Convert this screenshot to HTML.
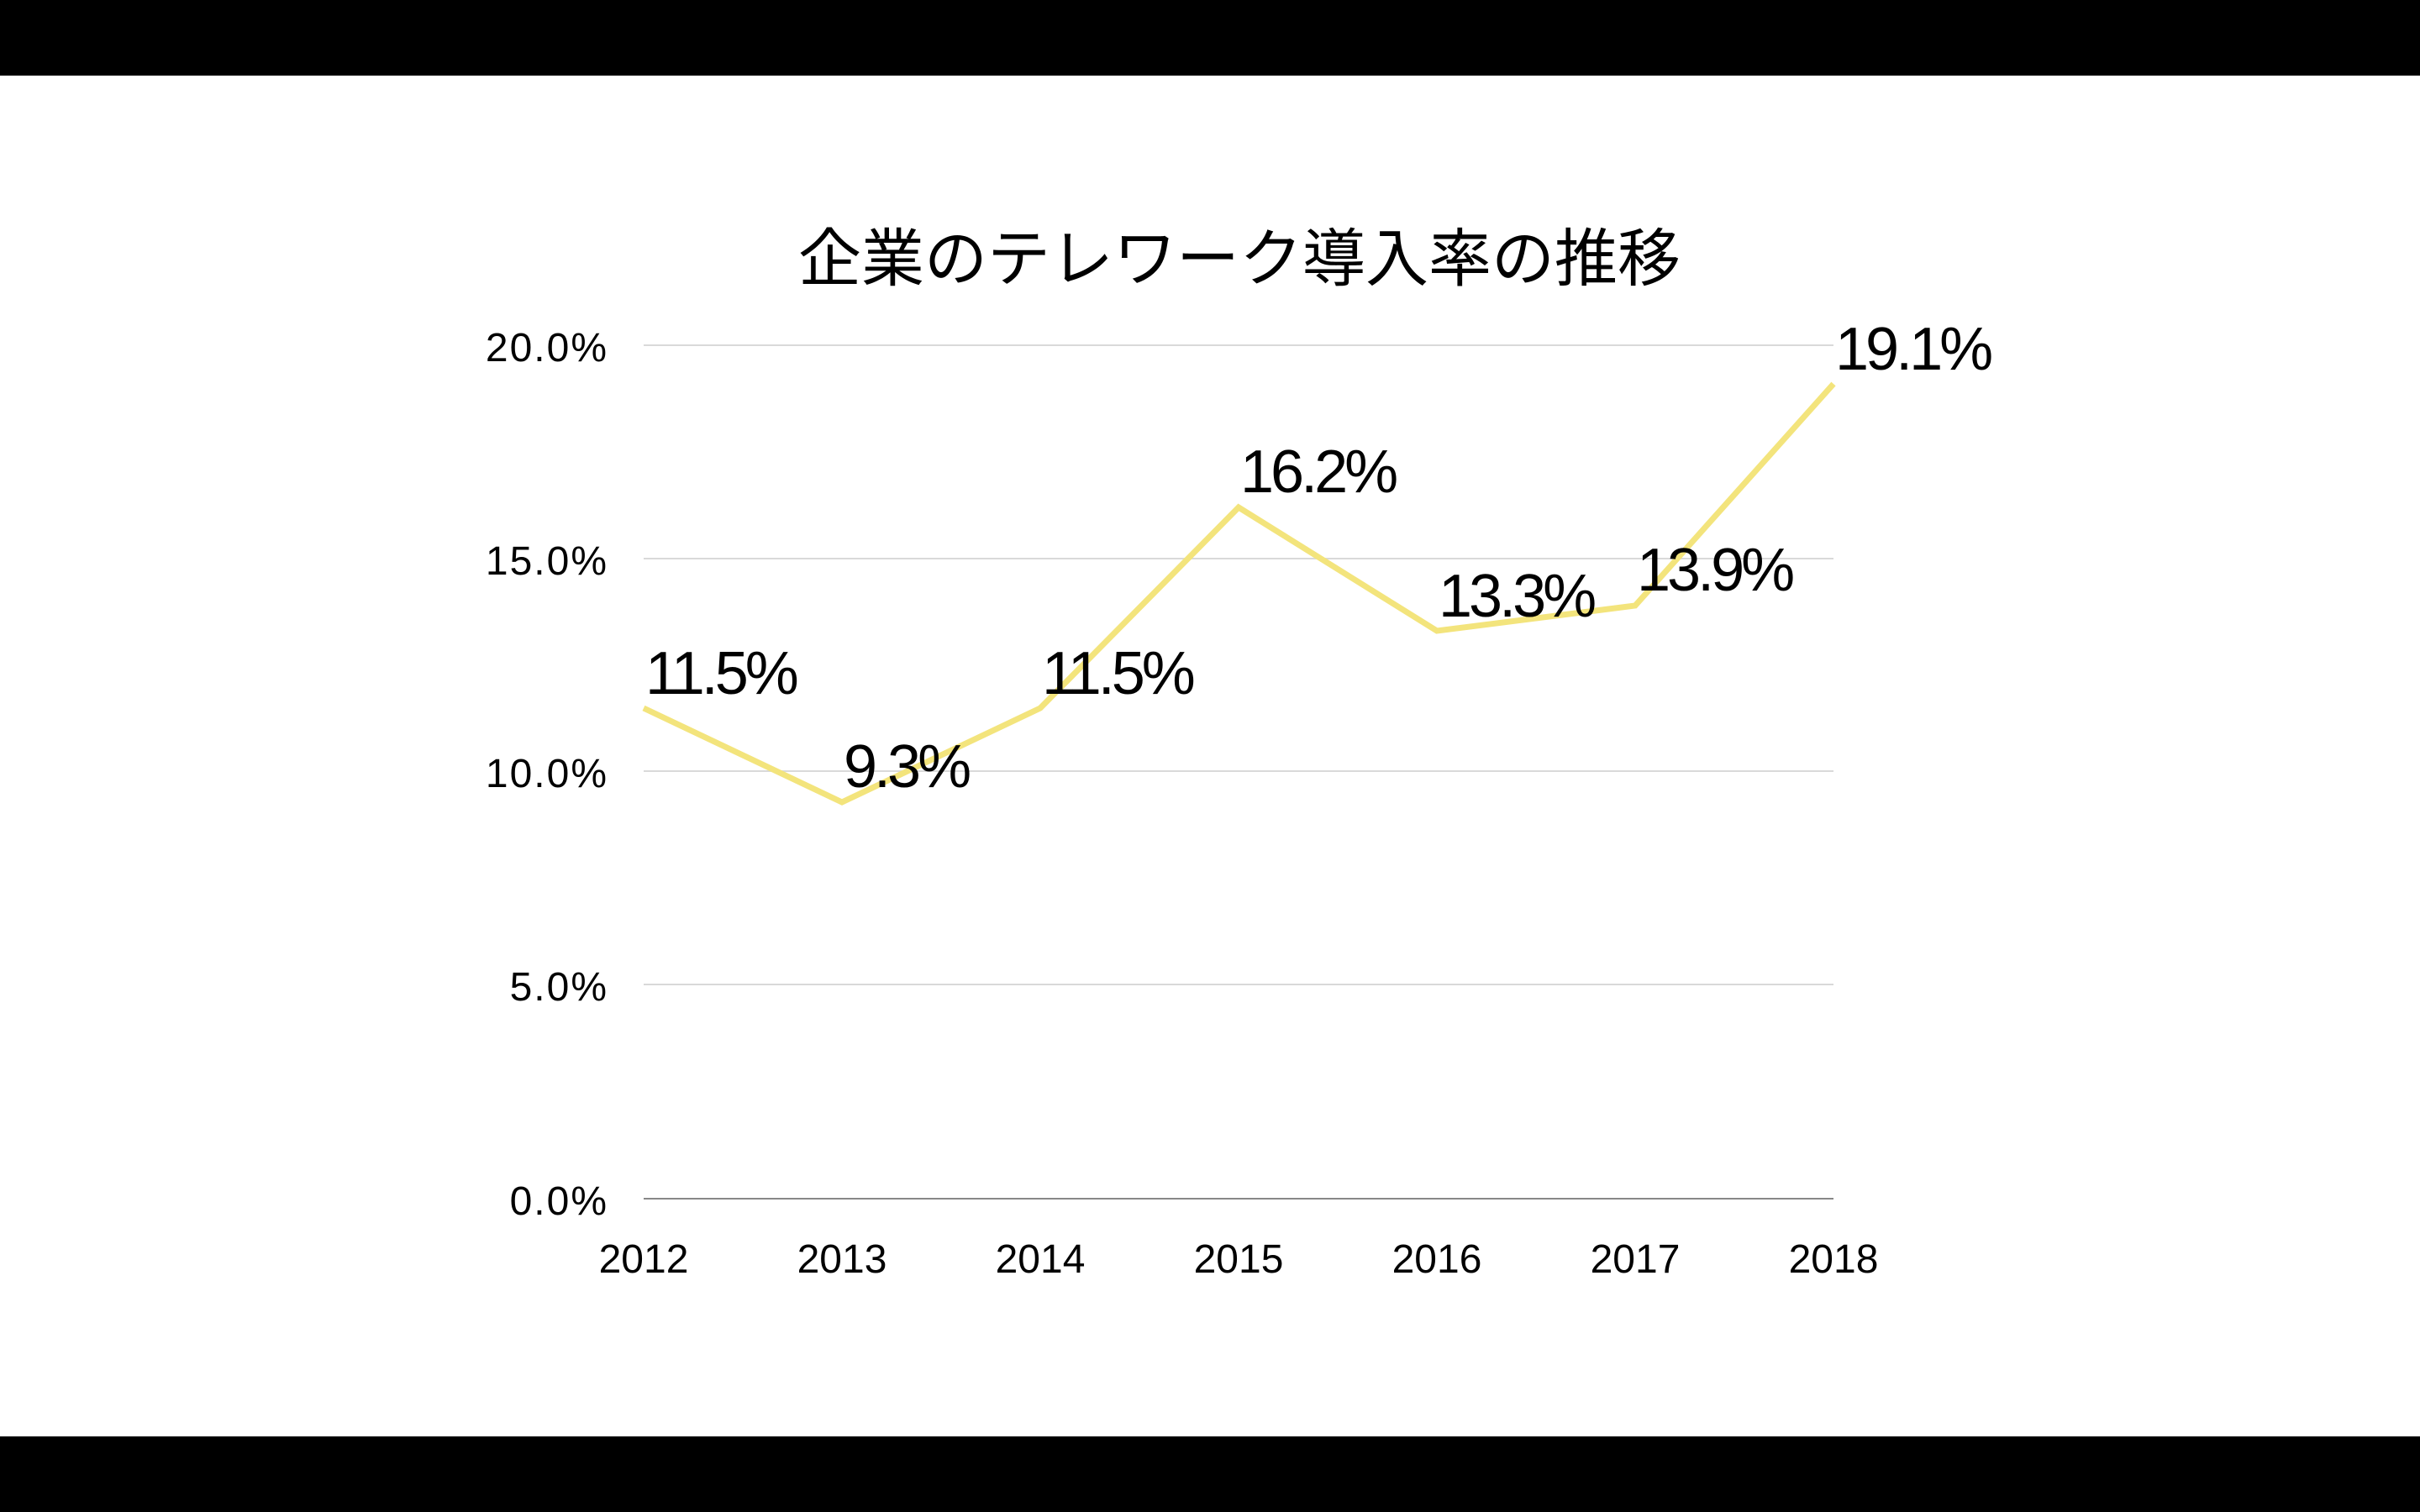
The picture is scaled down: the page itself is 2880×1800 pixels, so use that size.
<!DOCTYPE html>
<html><head><meta charset="utf-8"><style>
html,body{margin:0;padding:0;background:#fff;}
svg{display:block;}
</style></head><body>
<svg width="2880" height="1800" xmlns="http://www.w3.org/2000/svg" font-family="'Liberation Sans','Noto Sans CJK JP',sans-serif">
<rect x="0" y="0" width="2880" height="1800" fill="#fff"/>
<rect x="0" y="0" width="2880" height="90" fill="#000"/>
<rect x="0" y="1710" width="2880" height="90" fill="#000"/>
<text x="1475" y="334" font-size="75" text-anchor="middle" fill="#000">企業のテレワーク導入率の推移</text>
<g stroke="#d9d9d9" stroke-width="2">
<line x1="766" y1="411" x2="2182" y2="411"/>
<line x1="766" y1="665" x2="2182" y2="665"/>
<line x1="766" y1="918" x2="2182" y2="918"/>
<line x1="766" y1="1172" x2="2182" y2="1172"/>
</g>
<line x1="766" y1="1427" x2="2182" y2="1427" stroke="#888" stroke-width="2"/>
<g font-size="48" text-anchor="end" fill="#000" letter-spacing="2">
<text x="724" y="430">20.0%</text>
<text x="724" y="684">15.0%</text>
<text x="724" y="937">10.0%</text>
<text x="724" y="1191">5.0%</text>
<text x="724" y="1446">0.0%</text>
</g>
<g font-size="48" text-anchor="middle" fill="#000">
<text x="766" y="1515">2012</text>
<text x="1002" y="1515">2013</text>
<text x="1238" y="1515">2014</text>
<text x="1474" y="1515">2015</text>
<text x="1710" y="1515">2016</text>
<text x="1946" y="1515">2017</text>
<text x="2182" y="1515">2018</text>
</g>
<polyline points="766,843 1002,955 1238,843 1474,604 1710,751 1946,721 2182,457" fill="none" stroke="#f3e47c" stroke-width="7" stroke-linejoin="miter"/>
<g font-size="72" fill="#000" letter-spacing="-4">
<text x="768" y="826">11.5%</text>
<text x="1004" y="937">9.3%</text>
<text x="1240" y="826">11.5%</text>
<text x="1476" y="586">16.2%</text>
<text x="1712" y="734">13.3%</text>
<text x="1948" y="703">13.9%</text>
<text x="2184" y="440">19.1%</text>
</g>
</svg>
</body></html>
